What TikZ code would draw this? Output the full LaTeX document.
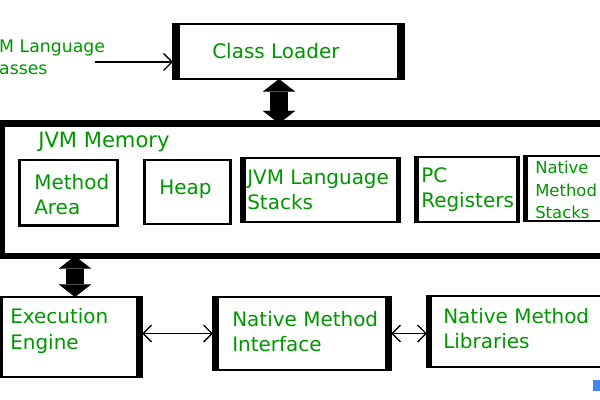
\documentclass[tikz,border=0pt]{standalone}
\usepackage{fontspec}
\setmainfont{DejaVu Sans}
\usetikzlibrary{arrows.meta,calc}
\definecolor{jvmgreen}{RGB}{0,150,0}
\definecolor{iconblue}{RGB}{66,133,244}
\tikzset{
    box/.style={draw, line width=1.5pt, anchor=north west, inner sep=0pt, outer sep=0pt},
    txt/.style={anchor=west, inner sep=0pt, align=left, text=jvmgreen, font=\fontsize{14.2}{17.8}\selectfont},
    fat/.style={line width=13pt, {Triangle[length=9pt,width=23pt,line width=0.1pt]}-{Triangle[length=9pt,width=23pt,line width=0.1pt]}},
    link/.style={line width=1pt}
}

\begin{document}
\begin{tikzpicture}[x=0.025cm, y=-0.025cm, >={Straight Barb[length=6pt,width=12pt]}]
        \useasboundingbox (0,0) rectangle (600,400);
        \clip (0,0) rectangle (600,400);
        \fill[white] (0,0) rectangle (600,400);

        \node[box, line width=4.3pt, minimum width=15.45cm, minimum height=3.3125cm] (mem) at (2,123.5) {};
        \node[box, minimum width=5.775cm, minimum height=1.375cm] (cl) at (173,24) {};
        \node[box, line width=2.1pt, minimum width=2.45cm, minimum height=1.6375cm] (ma) at (19.5,160) {};
        \node[box, line width=2.1pt, minimum width=2.15cm, minimum height=1.6cm] (heap) at (144.5,160) {};
        \node[box, minimum width=3.975cm, minimum height=1.6cm] (jls) at (241,158) {};
        \node[box, minimum width=2.6cm, minimum height=1.625cm] (pc) at (415,157) {};
        \node[box, minimum width=2.4cm, minimum height=1.625cm] (nms) at (524,156) {};
        \node[box, minimum width=3.5125cm, minimum height=2cm] (ee) at (1.5,297) {};
        \node[box, minimum width=4.45cm, minimum height=1.825cm] (nmi) at (213,297) {};
        \node[box, minimum width=4.825cm, minimum height=1.775cm] (nml) at (427,296) {};

        % heavy edges
        \foreach \n/\w in {cl/8,jls/6,pc/5,nms/5,nmi/7,nml/6}
            \fill ($(\n.north west)+(-1,-1)$) rectangle ($(\n.south west)+(\w-1,1)$);
        \foreach \n/\w in {cl/8,jls/5,pc/4,ee/7,nmi/7}
            \fill ($(\n.north east)+(1,-1)$) rectangle ($(\n.south east)+(1-\w,1)$);

        \node[txt] (cltxt) at (212,51) {Class Loader};
        \node[txt, font=\fontsize{15}{18}\selectfont] (memtxt) at (38,142) {JVM Memory};
        \node[txt] (matxt) at (34,195) {Method\\Area};
        \node[txt] (heaptxt) at (159,189) {Heap};
        \node[txt] (jlstxt) at (247,190) {JVM Language\\Stacks};
        \node[txt] (pctxt) at (421,190) {PC\\Registers};
        \node[txt, font=\fontsize{11.7}{16}\selectfont] (nmstxt) at (535,190) {Native\\Method\\Stacks};
        \node[txt] (eetxt) at (10,331) {Execution\\Engine};
        \node[txt] (nmitxt) at (232,332) {Native Method\\Interface};
        \node[txt] (nmltxt) at (443,329) {Native Method\\Libraries};
        \node[txt, font=\fontsize{12.3}{15.5}\selectfont] (srctxt) at (-18,57) {JVM Language\\Classes};

        \draw[fat] ([xshift=-0.2375cm]cl.south) -- ([xshift=-0.2375cm]cl.south |- mem.north);
        \draw[fat] ([xshift=0.08cm]ee.north) -- ([xshift=0.08cm]ee.north |- mem.south);
        \draw[link,<->] (nmi.west -| ee.east) -- (nmi.west);
        \draw[link,<->] (nmi.east) -- (nmi.east -| nml.west);
        \coordinate (src) at (95,62);
        \draw[link,->] (src) -- (src -| cl.west);

        \fill[iconblue] (593,380) rectangle (601,391);
    \end{tikzpicture}
\end{document}
